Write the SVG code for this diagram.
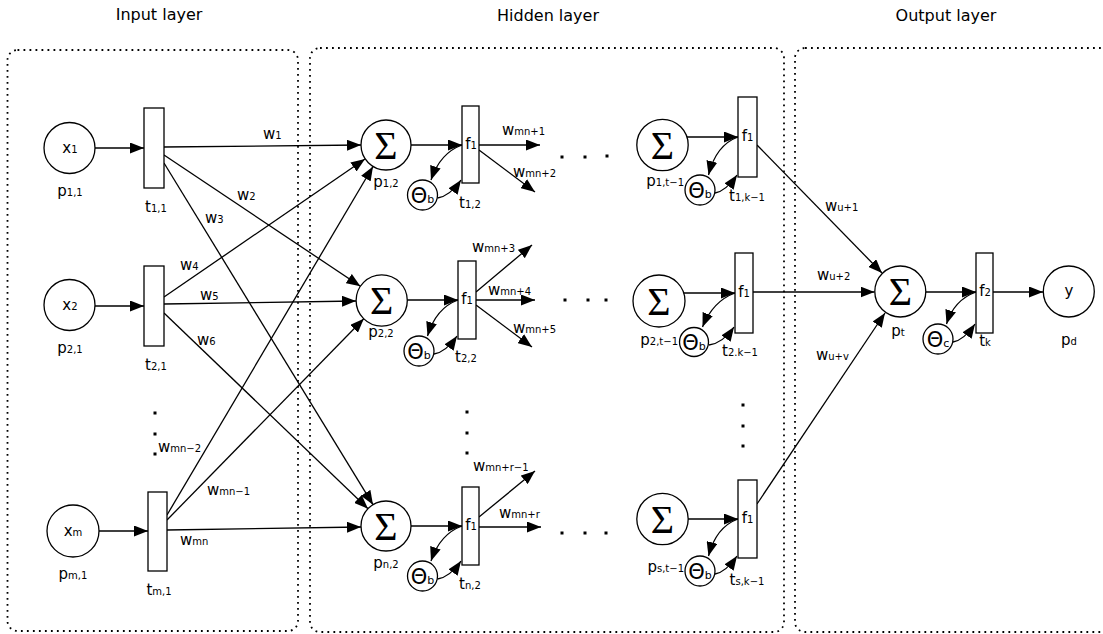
<svg xmlns="http://www.w3.org/2000/svg" width="1103" height="634" viewBox="0 0 1103 634">
<defs>
<marker id="ah" markerUnits="userSpaceOnUse" markerWidth="15" markerHeight="11" refX="14" refY="5.5" orient="auto"><path d="M0,0 L14,5.5 L0,11 z" fill="#000"/></marker>
</defs>
<style>
.box{fill:none;stroke:#000;stroke-width:1.8;stroke-dasharray:1.8 4.2}
.c{fill:#fff;stroke:#000;stroke-width:1.3}
.r{fill:#fff;stroke:#000;stroke-width:1.3}
.a{fill:none;stroke:#000;stroke-width:1.3;marker-end:url(#ah)}
text{font-family:"DejaVu Sans",sans-serif;font-size:15px;fill:#000}
.ttl{font-size:16px}
.s{font-size:10px}
.sb{font-size:11px}
.sig{font-family:"Liberation Serif",serif;font-size:40px}
.th{font-size:21px}
.m{text-anchor:middle}
.e{text-anchor:end}
.dot{fill:#000}
</style>
<g id="layers">
<rect class="box" x="7.5" y="50" width="290.5" height="581" rx="10"/>
<rect class="box" x="310" y="48" width="474" height="584" rx="10"/>
<rect class="box" x="795" y="48" width="320" height="584" rx="10"/>
<text class="ttl m" x="159" y="20">Input layer</text>
<text class="ttl m" x="548" y="21">Hidden layer</text>
<text class="ttl m" x="946" y="21">Output layer</text>
</g>
<g id="connectors">
<path class="a" d="M95,148 L144,148"/>
<path class="a" d="M95,306 L144,306"/>
<path class="a" d="M99,531 L148,531"/>
<path class="a" d="M164,147 L361,145"/>
<path class="a" d="M164,155 L360.4,286.3"/>
<path class="a" d="M164,163 L373,504.7"/>
<path class="a" d="M164,297 L365,159"/>
<path class="a" d="M164,304 L356,301"/>
<path class="a" d="M164,313 L368,508.7"/>
<path class="a" d="M167,515 L373,166.5"/>
<path class="a" d="M167,520 L363.8,318.8"/>
<path class="a" d="M167,530 L361,527"/>
<path class="a" d="M411,145 L462,145"/>
<path class="a" d="M407,300 L458,300"/>
<path class="a" d="M411,526 L462,526"/>
<path class="a" d="M687,137 L738,137"/>
<path class="a" d="M684,293 L735,293"/>
<path class="a" d="M688,519 L738,519"/>
<path class="a" d="M479,145 L540,145"/>
<path class="a" d="M479,150 L535,192"/>
<path class="a" d="M476,292 L532,245"/>
<path class="a" d="M476,300 L535,300"/>
<path class="a" d="M476,305 L532,347"/>
<path class="a" d="M479,517 L535,471"/>
<path class="a" d="M479,527 L541,527"/>
<path class="a" d="M757,145 L882,273"/>
<path class="a" d="M753,292 L874.5,292"/>
<path class="a" d="M757,504 L885,313"/>
<path class="a" d="M926,292 L976,292"/>
<path class="a" d="M993,292 L1043,292"/>
<path class="a" d="M462,145 Q440,153 431,180"/>
<path class="a" d="M437.5,198 Q450,196 461,180"/>
<path class="a" d="M458,300 Q436,308 427.5,336"/>
<path class="a" d="M434,354 Q446,352 457,336"/>
<path class="a" d="M462,526 Q440,534 431,561"/>
<path class="a" d="M437.5,579 Q450,577 461,561"/>
<path class="a" d="M738,137 Q716,145 708.5,175"/>
<path class="a" d="M715,193 Q726,191 737,175"/>
<path class="a" d="M735,293 Q713,301 702.5,327"/>
<path class="a" d="M709,345 Q723,343 734,327"/>
<path class="a" d="M738,519 Q716,527 708.5,556"/>
<path class="a" d="M715,574 Q726,572 737,556"/>
<path class="a" d="M976,292 Q954,300 946.5,324"/>
<path class="a" d="M953,342 Q964,340 975,324"/>
<text x="263" y="139">w<tspan class="s">1</tspan></text>
<text x="237" y="200">w<tspan class="s">2</tspan></text>
<text x="205" y="223">w<tspan class="s">3</tspan></text>
<text x="180" y="270">w<tspan class="s">4</tspan></text>
<text x="200" y="300">w<tspan class="s">5</tspan></text>
<text x="197" y="345">w<tspan class="s">6</tspan></text>
<text x="158" y="452">w<tspan class="s">mn−2</tspan></text>
<text x="207" y="495">w<tspan class="s">mn−1</tspan></text>
<text x="180" y="545">w<tspan class="s">mn</tspan></text>
<text x="502" y="135">w<tspan class="s">mn+1</tspan></text>
<text x="513" y="177">w<tspan class="s">mn+2</tspan></text>
<text x="472" y="252">w<tspan class="s">mn+3</tspan></text>
<text x="488" y="295">w<tspan class="s">mn+4</tspan></text>
<text x="513" y="333">w<tspan class="s">mn+5</tspan></text>
<text x="473" y="471">w<tspan class="s">mn+r−1</tspan></text>
<text x="499" y="518">w<tspan class="s">mn+r</tspan></text>
<text x="825" y="211">w<tspan class="s">u+1</tspan></text>
<text x="817" y="280">w<tspan class="s">u+2</tspan></text>
<text x="816" y="360">w<tspan class="s">u+v</tspan></text>
</g>
<g id="dots">
<rect class="dot" x="153.5" y="411.5" width="3" height="3"/>
<rect class="dot" x="153.5" y="432.5" width="3" height="3"/>
<rect class="dot" x="153.5" y="452.5" width="3" height="3"/>
<rect class="dot" x="465.5" y="410.5" width="3" height="3"/>
<rect class="dot" x="465.5" y="431.5" width="3" height="3"/>
<rect class="dot" x="465.5" y="451.5" width="3" height="3"/>
<rect class="dot" x="741.5" y="403.5" width="3" height="3"/>
<rect class="dot" x="741.5" y="424.5" width="3" height="3"/>
<rect class="dot" x="741.5" y="444.5" width="3" height="3"/>
<rect class="dot" x="560.5" y="155.5" width="3" height="3"/>
<rect class="dot" x="583.5" y="155.5" width="3" height="3"/>
<rect class="dot" x="605.5" y="154.5" width="3" height="3"/>
<rect class="dot" x="563.5" y="298.5" width="3" height="3"/>
<rect class="dot" x="586.5" y="298.5" width="3" height="3"/>
<rect class="dot" x="604.5" y="298.5" width="3" height="3"/>
<rect class="dot" x="560.5" y="531.5" width="3" height="3"/>
<rect class="dot" x="583.5" y="531.5" width="3" height="3"/>
<rect class="dot" x="604.5" y="531.5" width="3" height="3"/>
</g>
<g id="x1"><circle class="c" cx="69.5" cy="148" r="25.5"/><text class="m" x="70" y="153">x<tspan class="s">1</tspan></text><text class="m" x="70" y="196">p<tspan class="s">1,1</tspan></text></g>
<g id="x2"><circle class="c" cx="69.5" cy="305" r="25.5"/><text class="m" x="70" y="310">x<tspan class="s">2</tspan></text><text class="m" x="70" y="353">p<tspan class="s">2,1</tspan></text></g>
<g id="xm"><circle class="c" cx="73" cy="531" r="26"/><text class="m" x="73" y="536">x<tspan class="s">m</tspan></text><text class="m" x="73" y="579">p<tspan class="s">m,1</tspan></text></g>
<g id="t11"><rect class="r" x="144" y="108" width="20" height="80"/><text class="m" x="156" y="212">t<tspan class="s">1,1</tspan></text></g>
<g id="t21"><rect class="r" x="144" y="266" width="20" height="80"/><text class="m" x="156" y="370">t<tspan class="s">2,1</tspan></text></g>
<g id="tm1"><rect class="r" x="148" y="492" width="19" height="79"/><text class="m" x="159" y="595">t<tspan class="s">m,1</tspan></text></g>
<g id="p12"><circle class="c" cx="386" cy="145" r="25"/><text class="sig m" x="386" y="158.5">Σ</text><text class="m" x="386" y="187">p<tspan class="s">1,2</tspan></text></g>
<g id="t12"><rect class="r" x="462" y="106" width="17" height="77"/><text class="m" x="471" y="149">f<tspan class="s">1</tspan></text><text class="m" x="470" y="208">t<tspan class="s">1,2</tspan></text></g>
<g id="th12"><circle class="c" cx="422.5" cy="195" r="15"/><text class="m" x="422.5" y="202.5"><tspan class="th">Θ</tspan><tspan class="sb">b</tspan></text></g>
<g id="p22"><circle class="c" cx="381.7" cy="300.5" r="25.6"/><text class="sig m" x="381.7" y="314">Σ</text><text class="m" x="381" y="337">p<tspan class="s">2,2</tspan></text></g>
<g id="t22"><rect class="r" x="458" y="261" width="18" height="78"/><text class="m" x="467" y="304">f<tspan class="s">1</tspan></text><text class="m" x="466" y="362">t<tspan class="s">2,2</tspan></text></g>
<g id="th22"><circle class="c" cx="419" cy="351" r="15"/><text class="m" x="419" y="358.5"><tspan class="th">Θ</tspan><tspan class="sb">b</tspan></text></g>
<g id="pn2"><circle class="c" cx="386" cy="526" r="25"/><text class="sig m" x="386" y="539.5">Σ</text><text class="m" x="386" y="568">p<tspan class="s">n,2</tspan></text></g>
<g id="tn2"><rect class="r" x="462" y="487" width="17" height="78"/><text class="m" x="471" y="530">f<tspan class="s">1</tspan></text><text class="m" x="470" y="589">t<tspan class="s">n,2</tspan></text></g>
<g id="thn2"><circle class="c" cx="422.5" cy="576" r="15"/><text class="m" x="422.5" y="583.5"><tspan class="th">Θ</tspan><tspan class="sb">b</tspan></text></g>
<g id="p1t"><circle class="c" cx="662.5" cy="145" r="25.7"/><text class="sig m" x="662.5" y="158.5">Σ</text><text class="e" x="684" y="186">p<tspan class="s">1,t−1</tspan></text></g>
<g id="t1k"><rect class="r" x="738" y="97" width="19" height="80"/><text class="m" x="747.5" y="141">f<tspan class="s">1</tspan></text><text class="m" x="747" y="201">t<tspan class="s">1,k−1</tspan></text></g>
<g id="th1t"><circle class="c" cx="700" cy="190" r="15"/><text class="m" x="700" y="197.5"><tspan class="th">Θ</tspan><tspan class="sb">b</tspan></text></g>
<g id="p2t"><circle class="c" cx="659" cy="301" r="26"/><text class="sig m" x="659" y="314.5">Σ</text><text class="e" x="678" y="345">p<tspan class="s">2,t−1</tspan></text></g>
<g id="t2k"><rect class="r" x="735" y="253" width="18" height="80"/><text class="m" x="744" y="297">f<tspan class="s">1</tspan></text><text class="m" x="740" y="356">t<tspan class="s">2.k−1</tspan></text></g>
<g id="th2t"><circle class="c" cx="694" cy="342" r="14.5"/><text class="m" x="694" y="349.5"><tspan class="th">Θ</tspan><tspan class="sb">b</tspan></text></g>
<g id="pst"><circle class="c" cx="662.5" cy="519" r="25.7"/><text class="sig m" x="662.5" y="532.5">Σ</text><text class="e" x="684" y="572">p<tspan class="s">s,t−1</tspan></text></g>
<g id="tsk"><rect class="r" x="738" y="480" width="19" height="78"/><text class="m" x="747.5" y="523">f<tspan class="s">1</tspan></text><text class="m" x="747" y="585">t<tspan class="s">s,k−1</tspan></text></g>
<g id="thst"><circle class="c" cx="700" cy="571" r="15"/><text class="m" x="700" y="578.5"><tspan class="th">Θ</tspan><tspan class="sb">b</tspan></text></g>
<g id="pt"><circle class="c" cx="900.3" cy="291.5" r="25.5"/><text class="sig m" x="900.3" y="305">Σ</text><text class="m" x="898" y="336">p<tspan class="s">t</tspan></text></g>
<g id="tk"><rect class="r" x="976" y="253" width="17" height="80"/><text class="m" x="985" y="296">f<tspan class="s">2</tspan></text><text class="m" x="985" y="346">t<tspan class="s">k</tspan></text></g>
<g id="thc"><circle class="c" cx="938" cy="339" r="15"/><text class="m" x="938" y="346.5"><tspan class="th">Θ</tspan><tspan class="sb">c</tspan></text></g>
<g id="y"><circle class="c" cx="1068.8" cy="291.5" r="25.5"/><text class="m" x="1069" y="296">y</text><text class="m" x="1069" y="345">p<tspan class="s">d</tspan></text></g>
</svg>
